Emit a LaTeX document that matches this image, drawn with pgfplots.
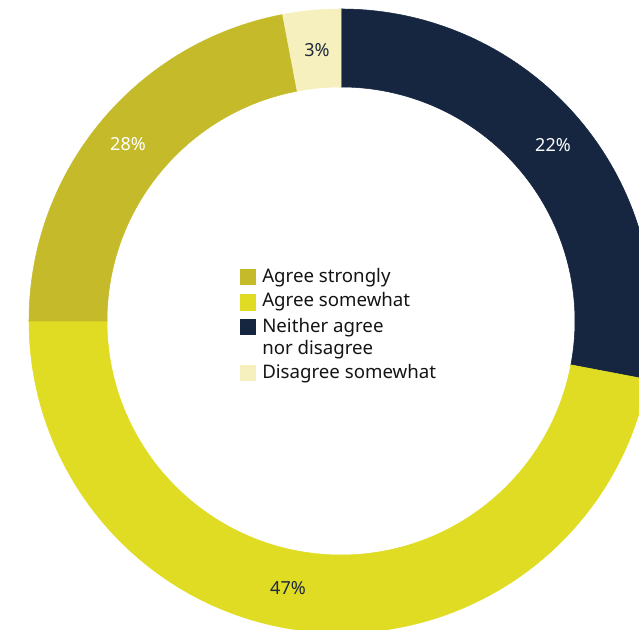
\documentclass[border=0pt]{standalone}
\usepackage{pgfplots}
\usepackage{pgfplotstable}
\pgfplotsset{compat=1.18}
\usepackage{fontspec}
\setmainfont{Noto Sans}
\definecolor{navy}{HTML}{162640}
\definecolor{olive}{HTML}{C5BB2A}
\definecolor{yel}{HTML}{E0DC23}
\definecolor{light}{HTML}{F5F0BE}
\definecolor{txt}{HTML}{1F2A3C}
\colorlet{slice1}{navy}
\colorlet{slice2}{yel}
\colorlet{slice3}{olive}
\colorlet{slice4}{light}
\pgfplotstableread{
cx cy start value ci
341 309 0 28 1
341 309 28 47 2
341 309 75 22 3
341 309 97 3 4
}\slices
\begin{document}
\begin{tikzpicture}
\begin{axis}[
  scale only axis, width=479.25pt, height=472.5pt,
  xmin=0, xmax=639, ymin=0, ymax=630,
  hide axis, clip marker paths=true,
]
\addplot[only marks, mark=*, mark size=0pt, scatter,
  visualization depends on={\thisrow{start}\as\st},
  visualization depends on={\thisrow{value}\as\val},
  visualization depends on={\thisrow{ci}\as\ci},
  scatter/@pre marker code/.code={%
    \pgfmathsetmacro\aa{90-3.6*\st}%
    \pgfmathsetmacro\bb{90-3.6*(\st+\val)}%
    \pgfmathtruncatemacro\k{\ci}%
    \fill[color=slice\k] (\aa:234pt) arc[start angle=\aa, end angle=\bb, radius=234pt]
      -- (\bb:175.5pt) arc[start angle=\bb, end angle=\aa, radius=175.5pt] -- cycle;
  },
  scatter/@post marker code/.code={},
] table[x=cx, y=cy] {\slices};
% percent labels
\node[font=\fontsize{13.5}{16}\selectfont, text=txt] at (axis cs:317,580) {3\%};
\node[font=\fontsize{13.5}{16}\selectfont, text=white] at (axis cs:128,486) {28\%};
\node[font=\fontsize{13.5}{16}\selectfont, text=white] at (axis cs:553,485) {22\%};
\node[font=\fontsize{13.5}{16}\selectfont, text=txt] at (axis cs:288,42) {47\%};
% legend
\fill[olive] (axis cs:240,345) rectangle (axis cs:256,361);
\fill[yel] (axis cs:240,319) rectangle (axis cs:256,336);
\fill[navy] (axis cs:240,295) rectangle (axis cs:256,311);
\fill[light] (axis cs:240,249) rectangle (axis cs:256,265);
\begin{scope}[every node/.style={anchor=base west, inner sep=0pt, text=black!92, font=\fontsize{14}{17}\selectfont}]
\node at (axis cs:262,347) {Agree strongly};
\node at (axis cs:262,323) {Agree somewhat};
\node at (axis cs:262,297) {Neither agree};
\node at (axis cs:262,275) {nor disagree};
\node at (axis cs:262,251) {Disagree somewhat};
\end{scope}
\end{axis}
\pgfresetboundingbox
\useasboundingbox (current axis.south west) rectangle (current axis.north east);
\end{tikzpicture}
\end{document}
